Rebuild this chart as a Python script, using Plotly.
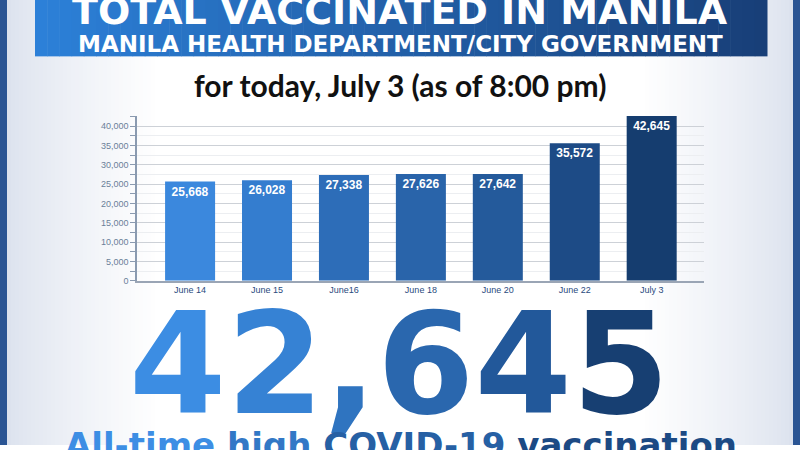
import plotly.graph_objects as go

dates = ["June 14", "June 15", "June16", "June 18", "June 20", "June 22", "July 3"]
vaccinated = [25668, 26028, 27338, 27626, 27642, 35572, 42645]
bar_colors = ["#3b88dd", "#347dcf", "#2d6db8", "#2964aa", "#245a9b", "#1d4b86", "#153d6f"]
y_ticks = [0, 5000, 10000, 15000, 20000, 25000, 30000, 35000, 40000]

title = "TOTAL VACCINATED IN MANILA"
subtitle = "MANILA HEALTH DEPARTMENT/CITY GOVERNMENT"
as_of = "for today, July 3 (as of 8:00 pm)"
headline = "42,645"
headline_colors = ["#3c8de3", "#3682d4", "#2f74c0", "#2a67ae", "#22589a", "#173f72"]
footer_words = ["All-time", "high", "COVID-19", "vaccination"]
footer_colors = ["#3d8ee4", "#3278c6", "#2660a4", "#1c4a84"]

W, H = 800, 450


def px(x):
    return x / W


def py(y):
    return 1 - y / H


def mix(c1, c2, t):
    a = [int(c1[i:i + 2], 16) for i in (1, 3, 5)]
    b = [int(c2[i:i + 2], 16) for i in (1, 3, 5)]
    return "#" + "".join("%02x" % round(a[k] + (b[k] - a[k]) * t) for k in range(3))


shapes = []
# soft tinted edges of the poster
edge = "#dce2ee"
step = 4
for i in range(0, 150, step):
    t = min(1, i / 150) ** 0.8
    c = mix(edge, "#ffffff", t)
    shapes.append(dict(type="rect", xref="paper", yref="paper", layer="below",
                       x0=px(7 + i), x1=px(7 + i + step), y0=0, y1=1,
                       fillcolor=c, line_width=0))
    shapes.append(dict(type="rect", xref="paper", yref="paper", layer="below",
                       x0=px(793 - i - step), x1=px(793 - i), y0=0, y1=1,
                       fillcolor=c, line_width=0))
# outer blue frame
for x0, x1 in [(0, 7), (793, 800)]:
    shapes.append(dict(type="rect", xref="paper", yref="paper", layer="below",
                       x0=px(x0), x1=px(x1), y0=0, y1=1,
                       fillcolor="#2b5594", line_width=0))
# header banner with horizontal gradient
n = 60
bx0, bx1 = 35, 767
for i in range(n):
    c = mix("#2c80d8", "#183f78", i / (n - 1))
    shapes.append(dict(type="rect", xref="paper", yref="paper", layer="below",
                       x0=px(bx0 + (bx1 - bx0) * i / n),
                       x1=px(bx0 + (bx1 - bx0) * (i + 1) / n + 0.5),
                       y0=py(57), y1=1, fillcolor=c, line_width=0))

fig = go.Figure()
fig.add_trace(go.Bar(
    x=dates, y=vaccinated, width=0.65,
    marker=dict(color=bar_colors, line_width=0),
    texttemplate="%{y:,}", textposition="inside", insidetextanchor="end",
    textfont=dict(family="Liberation Sans", size=12, color="white", weight="bold"),
    constraintext="none", cliponaxis=False, hoverinfo="skip",
))

annotations = [
    dict(text=title, x=0.5, y=py(11), xref="paper", yref="paper", showarrow=False,
         yanchor="middle", font=dict(family="DejaVu Sans", size=38, color="white", weight="bold")),
    dict(text=subtitle, x=0.5, y=py(44), xref="paper", yref="paper", showarrow=False,
         yanchor="middle", font=dict(family="DejaVu Sans", size=23, color="white", weight="bold")),
    dict(text=as_of, x=0.5, y=py(86), xref="paper", yref="paper", showarrow=False,
         yanchor="middle", font=dict(family="Lato", size=30, color="#111111", weight="bold")),
    dict(text="".join('<span style="color:%s">%s</span>' % (c, ch)
                      for ch, c in zip(headline, headline_colors)),
         x=px(399), y=py(369), xref="paper", yref="paper", showarrow=False,
         yanchor="middle", font=dict(family="DejaVu Sans", size=140, weight="bold")),
    dict(text=" ".join('<span style="color:%s">%s</span>' % (c, w)
                       for w, c in zip(footer_words, footer_colors)),
         x=px(401), y=py(428), xref="paper", yref="paper", showarrow=False,
         yanchor="top", font=dict(family="DejaVu Sans", size=34, weight="bold")),
]

fig.update_layout(
    width=W, height=H,
    margin=dict(l=0, r=0, t=0, b=0),
    paper_bgcolor="white", plot_bgcolor="rgba(0,0,0,0)",
    showlegend=False, shapes=shapes, annotations=annotations,
    bargap=0.35,
    xaxis=dict(domain=[px(137), px(704)], range=[-0.69, 6.68], type="category",
               showline=True, linecolor="#9aa5b5", linewidth=1.5, ticks="",
               tickfont=dict(family="Liberation Sans", size=9, color="#2a4a7e"),
               showgrid=False, fixedrange=True),
    yaxis=dict(domain=[py(284), py(117)], range=[0, 42700],
               tickvals=y_ticks, tickformat=",", ticks="outside", ticklen=5,
               tickcolor="#8a9ab0", showline=True, linecolor="#8a9ab0", linewidth=1.5,
               showgrid=True, gridcolor="#cdd1d7", gridwidth=1,
               minor=dict(dtick=2500, ticks="outside", ticklen=5, tickcolor="#8a9ab0",
                          showgrid=True, gridcolor="#eceef1"),
               tickfont=dict(family="Liberation Sans", size=9, color="#6b7f99"),
               zeroline=False, fixedrange=True),
)

# the page's default body margin would shift the poster by 8px
fig.write_html("out.html", config={"displayModeBar": False},
               post_script="document.body.style.margin='0';")
